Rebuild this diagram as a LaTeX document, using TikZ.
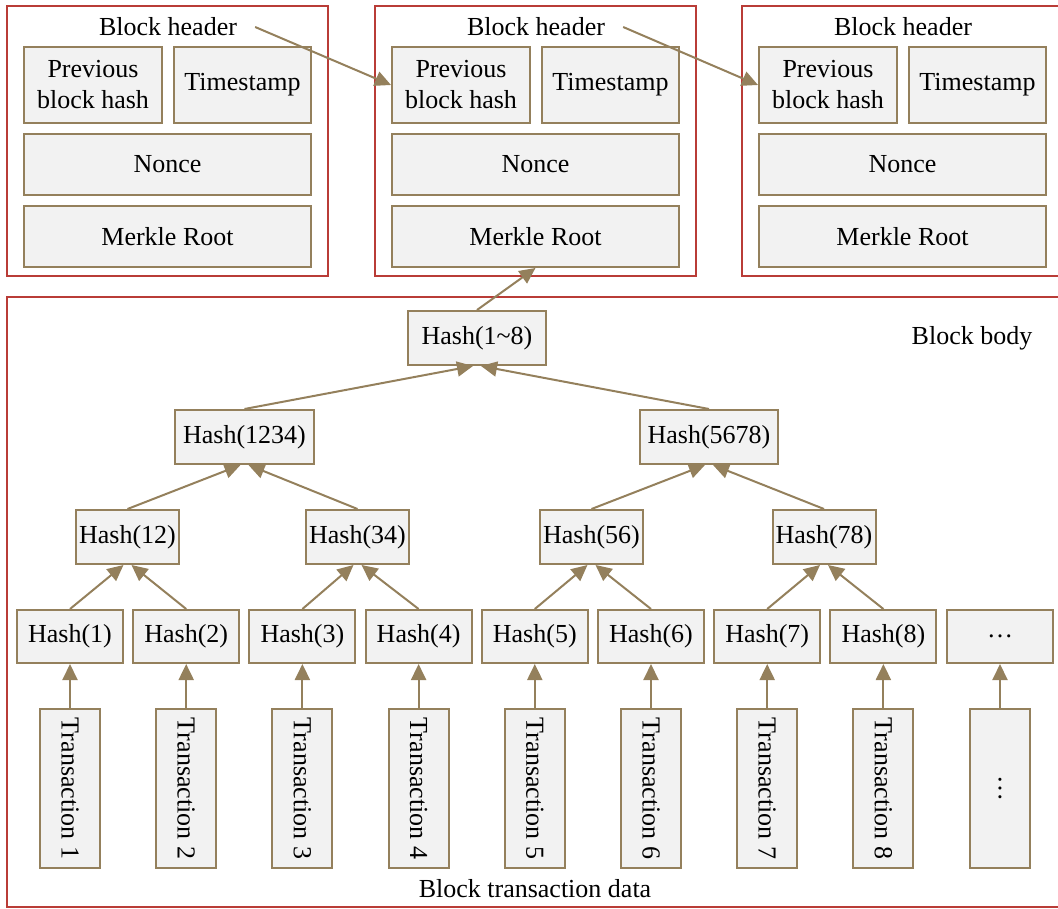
\documentclass[tikz,border=0pt]{standalone}
\usepackage{fontspec}
\setmainfont{Liberation Serif}
\usetikzlibrary{arrows.meta}
\usetikzlibrary{positioning}

\definecolor{boxline}{RGB}{148,128,92}
\definecolor{boxfill}{RGB}{242,242,242}
\definecolor{frameline}{RGB}{185,60,55}

\begin{document}
\begin{tikzpicture}[
    x=1pt, y=-1pt,
    cell/.style={draw=boxline, fill=boxfill, line width=2pt, inner sep=0pt, align=center, font=\fontsize{26}{31}\selectfont},
    frame/.style={draw=frameline, line width=2pt},
    lbl/.style={inner sep=0pt, font=\fontsize{26}{31}\selectfont},
    link/.style={draw=boxline, line width=2pt, -{Triangle[length=16pt, width=15pt]}}
]
\useasboundingbox (0,0) rectangle (1058,909);
\clip (0,0) rectangle (1058,909);

% --- Block headers ---
\foreach \k/\dx in {1/0, 2/368, 3/735}
{
    \draw[frame] (7+\dx,6) rectangle (328+\dx,276);
    \node[lbl] (title\k) at (168+\dx,27) {Block header};
    \node[cell, minimum width=138pt, minimum height=76pt] (prev\k) at (93+\dx,85) {Previous\\block hash};
    \node[cell, minimum width=137pt, minimum height=76pt] (time\k) at (242.5+\dx,85) {Timestamp};
    \node[cell, minimum width=287pt, minimum height=61pt] (nonce\k) at (167.5+\dx,164.5) {Nonce};
    \node[cell, minimum width=287pt, minimum height=61pt] (merkle\k) at (167.5+\dx,236.5) {Merkle Root};
}

% --- Block body ---
\draw[frame] (7,297) rectangle (1065,907);
\node[lbl] (body) at (972,338) {Block body};
\node[lbl] (txdata) at (535,889) {Block transaction data};

% --- Merkle tree ---
\node[cell, minimum width=138pt, minimum height=54pt] (h18) at (477,338) {Hash(1\textasciitilde 8)};
\node[cell, minimum width=139pt, minimum height=54pt] (h1234) at (244.5,437) {Hash(1234)};
\node[cell, minimum width=138pt, minimum height=54pt] (h5678) at (709,437) {Hash(5678)};
\foreach \p/\x in {12/127.5, 34/357.5, 56/591.5, 78/824}
{
    \node[cell, minimum width=103pt, minimum height=54pt] (h\p) at (\x,537) {Hash(\p)};
}

% --- Leaves and transactions ---
\foreach \i in {1,...,8}
{
    \node[cell, minimum width=106pt, minimum height=53pt] (h\i) at ({70+116.2*(\i-1)},636.5) {Hash(\i)};
    \node[cell, rotate=-90, minimum width=159pt, minimum height=60pt] (tx\i) at ({70+116.2*(\i-1)},788.5) {Transaction \i};
    \draw[link] (tx\i.west) -- (h\i.south);
}
\node[cell, minimum width=106pt, minimum height=53pt] (h9) at (1000,636.5) {\char"2026};
\node[cell, rotate=-90, minimum width=159pt, minimum height=60pt] (tx9) at (1000,788.5) {\char"2026};
\draw[link] (tx9.west) -- (h9.south);

% --- Hash links ---
\foreach \a/\b/\p in {1/2/12, 3/4/34, 5/6/56, 7/8/78, 12/34/1234, 56/78/5678, 1234/5678/18}
{
    \draw[link] (h\a.north) -- ([xshift=-4pt]h\p.south);
    \draw[link] (h\b.north) -- ([xshift=4pt]h\p.south);
}

% --- Header links ---
\draw[link] (h18.north) -- (merkle2.south);
\draw[link] ([xshift=18pt]title1.east) -- (prev2.west);
\draw[link] ([xshift=18pt]title2.east) -- (prev3.west);

\end{tikzpicture}
\end{document}
